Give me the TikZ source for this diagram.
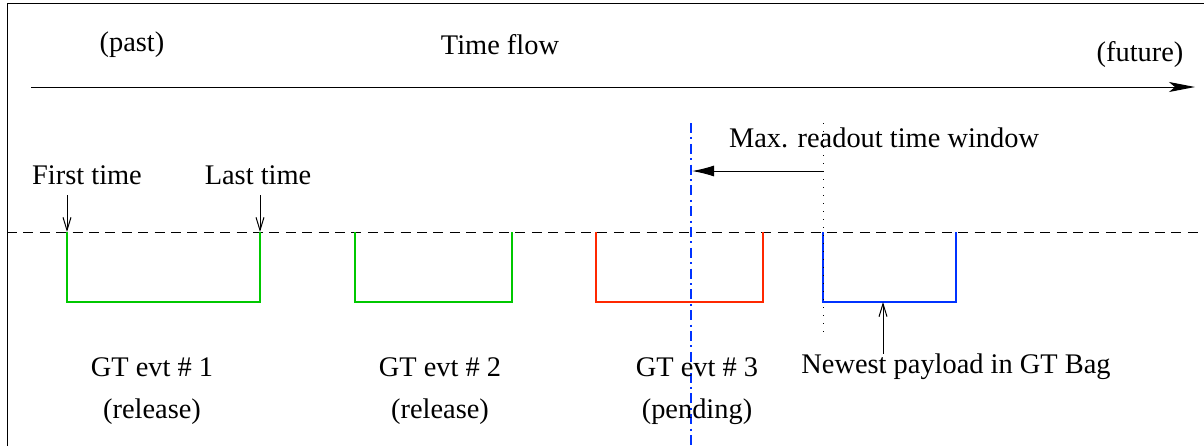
\documentclass[tikz,border=0pt]{standalone}
\usepackage{fontspec}
\setmainfont{Liberation Serif}
\usetikzlibrary{arrows.meta}
\definecolor{evgreen}{RGB}{0,200,0}
\definecolor{evred}{RGB}{255,40,0}
\definecolor{evblue}{RGB}{0,50,255}
\begin{document}
\begin{tikzpicture}[x=0.5pt,y=-0.5pt,
  lbl/.style={inner sep=0pt,font=\fontsize{14.2}{16}\selectfont},
  bag/.style={line width=1.1pt},
  thin/.style={line width=0.5pt},
  openhead/.style={thin,-{Straight Barb[length=6.5pt,width=4pt]}},
]
\useasboundingbox (0,0) rectangle (1204,446);
% frame
\draw[thin] (7,446) -- (7,3) -- (1210,3);
% time axis
\node[lbl] (past) at (132,45) {(past)};
\node[lbl] (flow) at (500,45) {Time flow};
\node[lbl] (future) at (1140,55) {(future)};
\coordinate (t0) at (31,87);
\coordinate (t1) at (1195,87);
\draw[thin,-{Stealth[length=13pt,width=5pt,inset=3pt]}] (t0) -- (t1);
% trigger level
\coordinate (d0) at (7,232);
\coordinate (d1) at (1210,232);
\draw[thin,dash pattern=on 5pt off 3.2pt] (d0) -- (d1);
% payload brackets
\draw[bag,evgreen] (67,232) -- (67,302) -- (260,302) -- (260,232);
\draw[bag,evgreen] (355,232) -- (355,302) -- (512,302) -- (512,232);
\draw[bag,evred] (596,232) -- (596,302) -- (763,302) -- (763,232);
\draw[bag,evblue] (823,232) -- (823,302) -- (956,302) -- (956,232);
% readout window
\coordinate (w0) at (691,123);
\coordinate (w1) at (691,446);
\draw[line width=0.9pt,evblue,dash pattern=on 5pt off 2.2pt on 1pt off 2.2pt] (w0) -- (w1);
\coordinate (n0) at (823,123);
\coordinate (n1) at (823,332);
\draw[thin,dash pattern=on 0.6pt off 3.4pt] (n0) -- (n1);
\coordinate (a0) at (823,171);
\coordinate (a1) at (692,171);
\draw[thin,-{Latex[length=11pt,width=5.5pt]}] (a0) -- (a1);
\node[lbl] (win) at (884,138) {Max. readout time window};
% first / last time markers
\node[lbl] (first) at (87,175) {First time};
\node[lbl] (last) at (258,175) {Last time};
\coordinate (f0) at (67,195);
\coordinate (f1) at (67,232);
\coordinate (l0) at (260,195);
\coordinate (l1) at (260,232);
\draw[openhead] (f0) -- (f1);
\draw[openhead] (l0) -- (l1);
% newest payload
\node[lbl] (newest) at (956,367) {Newest payload in GT Bag};
\coordinate (p1) at (883,302);
\draw[openhead] (newest.north -| p1) -- (p1);
% event labels
\node[lbl] (e1) at (152,367) {GT evt \# 1};
\node[lbl] (s1) at (152,412) {(release)};
\node[lbl] (e2) at (440,367) {GT evt \# 2};
\node[lbl] (s2) at (440,412) {(release)};
\node[lbl] (e3) at (697,367) {GT evt \# 3};
\node[lbl] (s3) at (697,412) {(pending)};
\end{tikzpicture}
\end{document}
